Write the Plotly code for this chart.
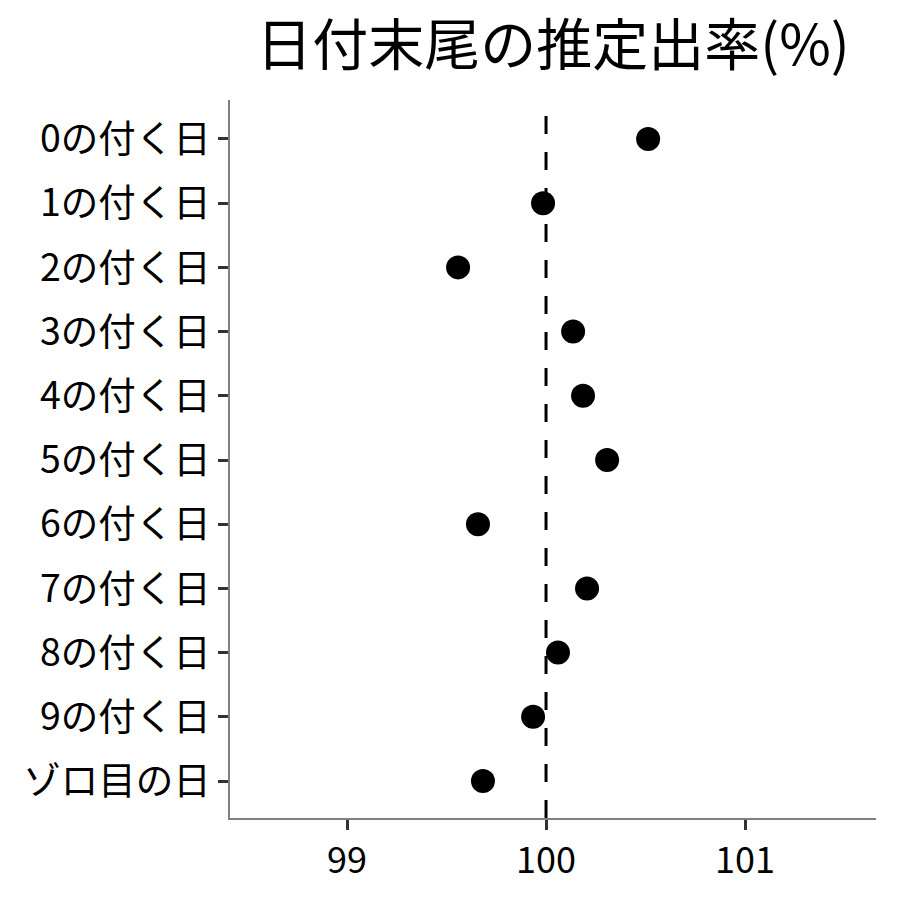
import plotly.graph_objects as go

categories = ["0の付く日", "1の付く日", "2の付く日", "3の付く日", "4の付く日",
              "5の付く日", "6の付く日", "7の付く日", "8の付く日", "9の付く日", "ゾロ目の日"]
values = [100.513, 99.985, 99.558, 100.136, 100.186, 100.307,
          99.658, 100.206, 100.060, 99.935, 99.683]
ref_value = 100
x_ticks = [99, 100, 101]
title_text = "日付末尾の推定出率(%)"

font_family = "Noto Sans CJK JP"

fig = go.Figure()
fig.add_trace(go.Scatter(
    x=values, y=categories, mode="markers",
    marker=dict(color="black", size=24),
    showlegend=False, hoverinfo="x+y",
))

fig.add_shape(type="line", xref="x", yref="paper",
              x0=ref_value, x1=ref_value, y0=0, y1=1,
              line=dict(color="black", width=3, dash="18px,18px"))

fig.update_layout(
    width=900, height=900,
    margin=dict(l=222, r=32, t=92, b=90, autoexpand=False),
    paper_bgcolor="white", plot_bgcolor="white",
    font=dict(family=font_family, color="black"),
    title=dict(text=title_text, x=(222 + 868) / 2 / 900, xanchor="center",
               xref="container",
               y=1 - 37 / 900, yanchor="middle", yref="container",
               automargin=False,
               font=dict(size=56, family=font_family, color="black")),
)
fig.update_xaxes(
    range=[98.412, 101.658], tickvals=x_ticks, ticktext=[str(t) for t in x_ticks],
    showgrid=False, zeroline=False, showline=True, linecolor="#7f7f7f", linewidth=1.5,
    ticks="outside", ticklen=10, tickwidth=3, tickcolor="#333333",
    tickfont=dict(size=36, color="black", family=font_family),
    automargin=False,
)
fig.update_yaxes(
    categoryorder="array", categoryarray=categories,
    range=[10.576, -0.607],
    showgrid=False, zeroline=False, showline=True, linecolor="#7f7f7f", linewidth=1.5,
    ticks="outside", ticklen=10, tickwidth=3, tickcolor="#333333",
    tickfont=dict(size=37.5, color="black", family=font_family),
    automargin=False,
)

fig.write_html("out.html")
